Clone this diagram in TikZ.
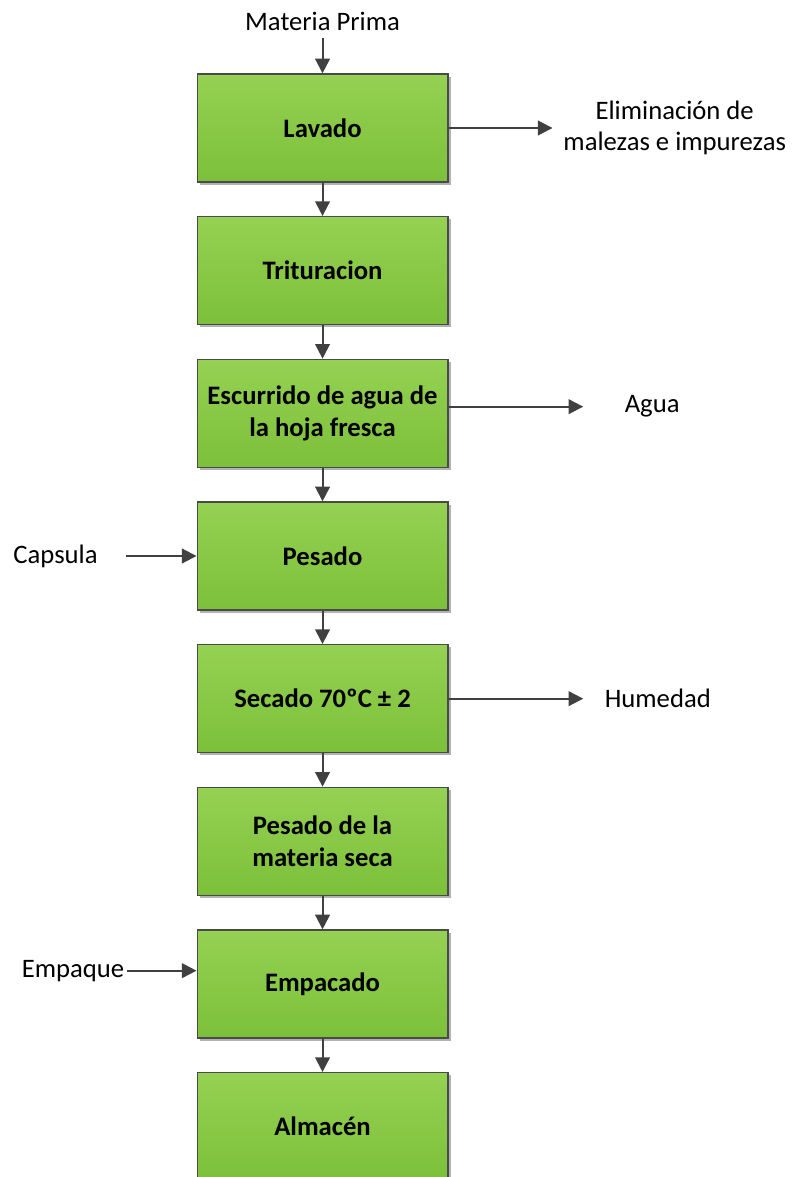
\documentclass[tikz,border=0pt]{standalone}
\usepackage{fontspec}
\setmainfont{Carlito}
\usetikzlibrary{arrows.meta,positioning,shadows}
\definecolor{LeafTop}{HTML}{95D152}
\definecolor{LeafBottom}{HTML}{7CC03A}
\definecolor{EdgeGray}{HTML}{4A4A4A}
\definecolor{ArrowGray}{HTML}{404040}

\begin{document}
\begin{tikzpicture}[
  process/.style={rectangle,draw=EdgeGray,line width=1pt,top color=LeafTop,bottom color=LeafBottom,
                  minimum width=188pt,minimum height=81pt,font=\fontsize{20}{24}\selectfont\bfseries,
                  align=center,inner sep=2pt,
                  drop shadow={shadow xshift=2pt,shadow yshift=-2pt,opacity=.3,fill=black}},
  flowtext/.style={font=\fontsize{20}{23}\selectfont,align=center,inner sep=2pt},
  arrow/.style={-{Triangle[length=11pt,width=11pt]},line width=1.5pt,draw=ArrowGray},
  node distance=25pt
]
\useasboundingbox (0,0) rectangle (600.75pt,-882.75pt);

\node[process] (lavado) at (241.9pt,-96pt) {Lavado};
\node[process,below=of lavado]      (trituracion) {Trituracion};
\node[process,below=of trituracion] (escurrido)   {Escurrido de agua de\\la hoja fresca};
\node[process,below=of escurrido]   (pesado)      {Pesado};
\node[process,below=of pesado]      (secado)      {Secado 70ºC ± 2};
\node[process,below=of secado]      (pesadoseca)  {Pesado de la\\materia seca};
\node[process,below=of pesadoseca]  (empacado)    {Empacado};
\node[process,below=of empacado]    (almacen)     {Almacén};

\node[flowtext,above=29.5pt of lavado]          (materia)     {Materia Prima};
\node[flowtext,right=84pt of lavado]            (eliminacion) {Eliminación de\\malezas e impurezas};
\node[flowtext,right=130pt of escurrido,yshift=5pt] (agua)    {Agua};
\node[flowtext,left=72pt of pesado]             (capsula)     {Capsula};
\node[flowtext,right=115pt of secado]           (humedad)     {Humedad};
\node[flowtext,left=52pt of empacado,yshift=10pt] (empaque)   {Empaque};

\draw[arrow,shorten <=3pt] (materia) -- (lavado);
\draw[arrow] (lavado) -- (trituracion);
\draw[arrow] (trituracion) -- (escurrido);
\draw[arrow] (escurrido) -- (pesado);
\draw[arrow] (pesado) -- (secado);
\draw[arrow] (secado) -- (pesadoseca);
\draw[arrow] (pesadoseca) -- (empacado);
\draw[arrow] (empacado) -- (almacen);

\draw[arrow,shorten >=6pt]  (lavado) -- (eliminacion);
\draw[arrow,shorten >=29pt] (escurrido.east |- agua) -- (agua);
\draw[arrow,shorten <=19pt] (capsula) -- (pesado);
\draw[arrow,shorten >=14pt] (secado) -- (humedad);
\draw[arrow] (empaque) -- (empaque -| empacado.west);
\end{tikzpicture}
\end{document}
